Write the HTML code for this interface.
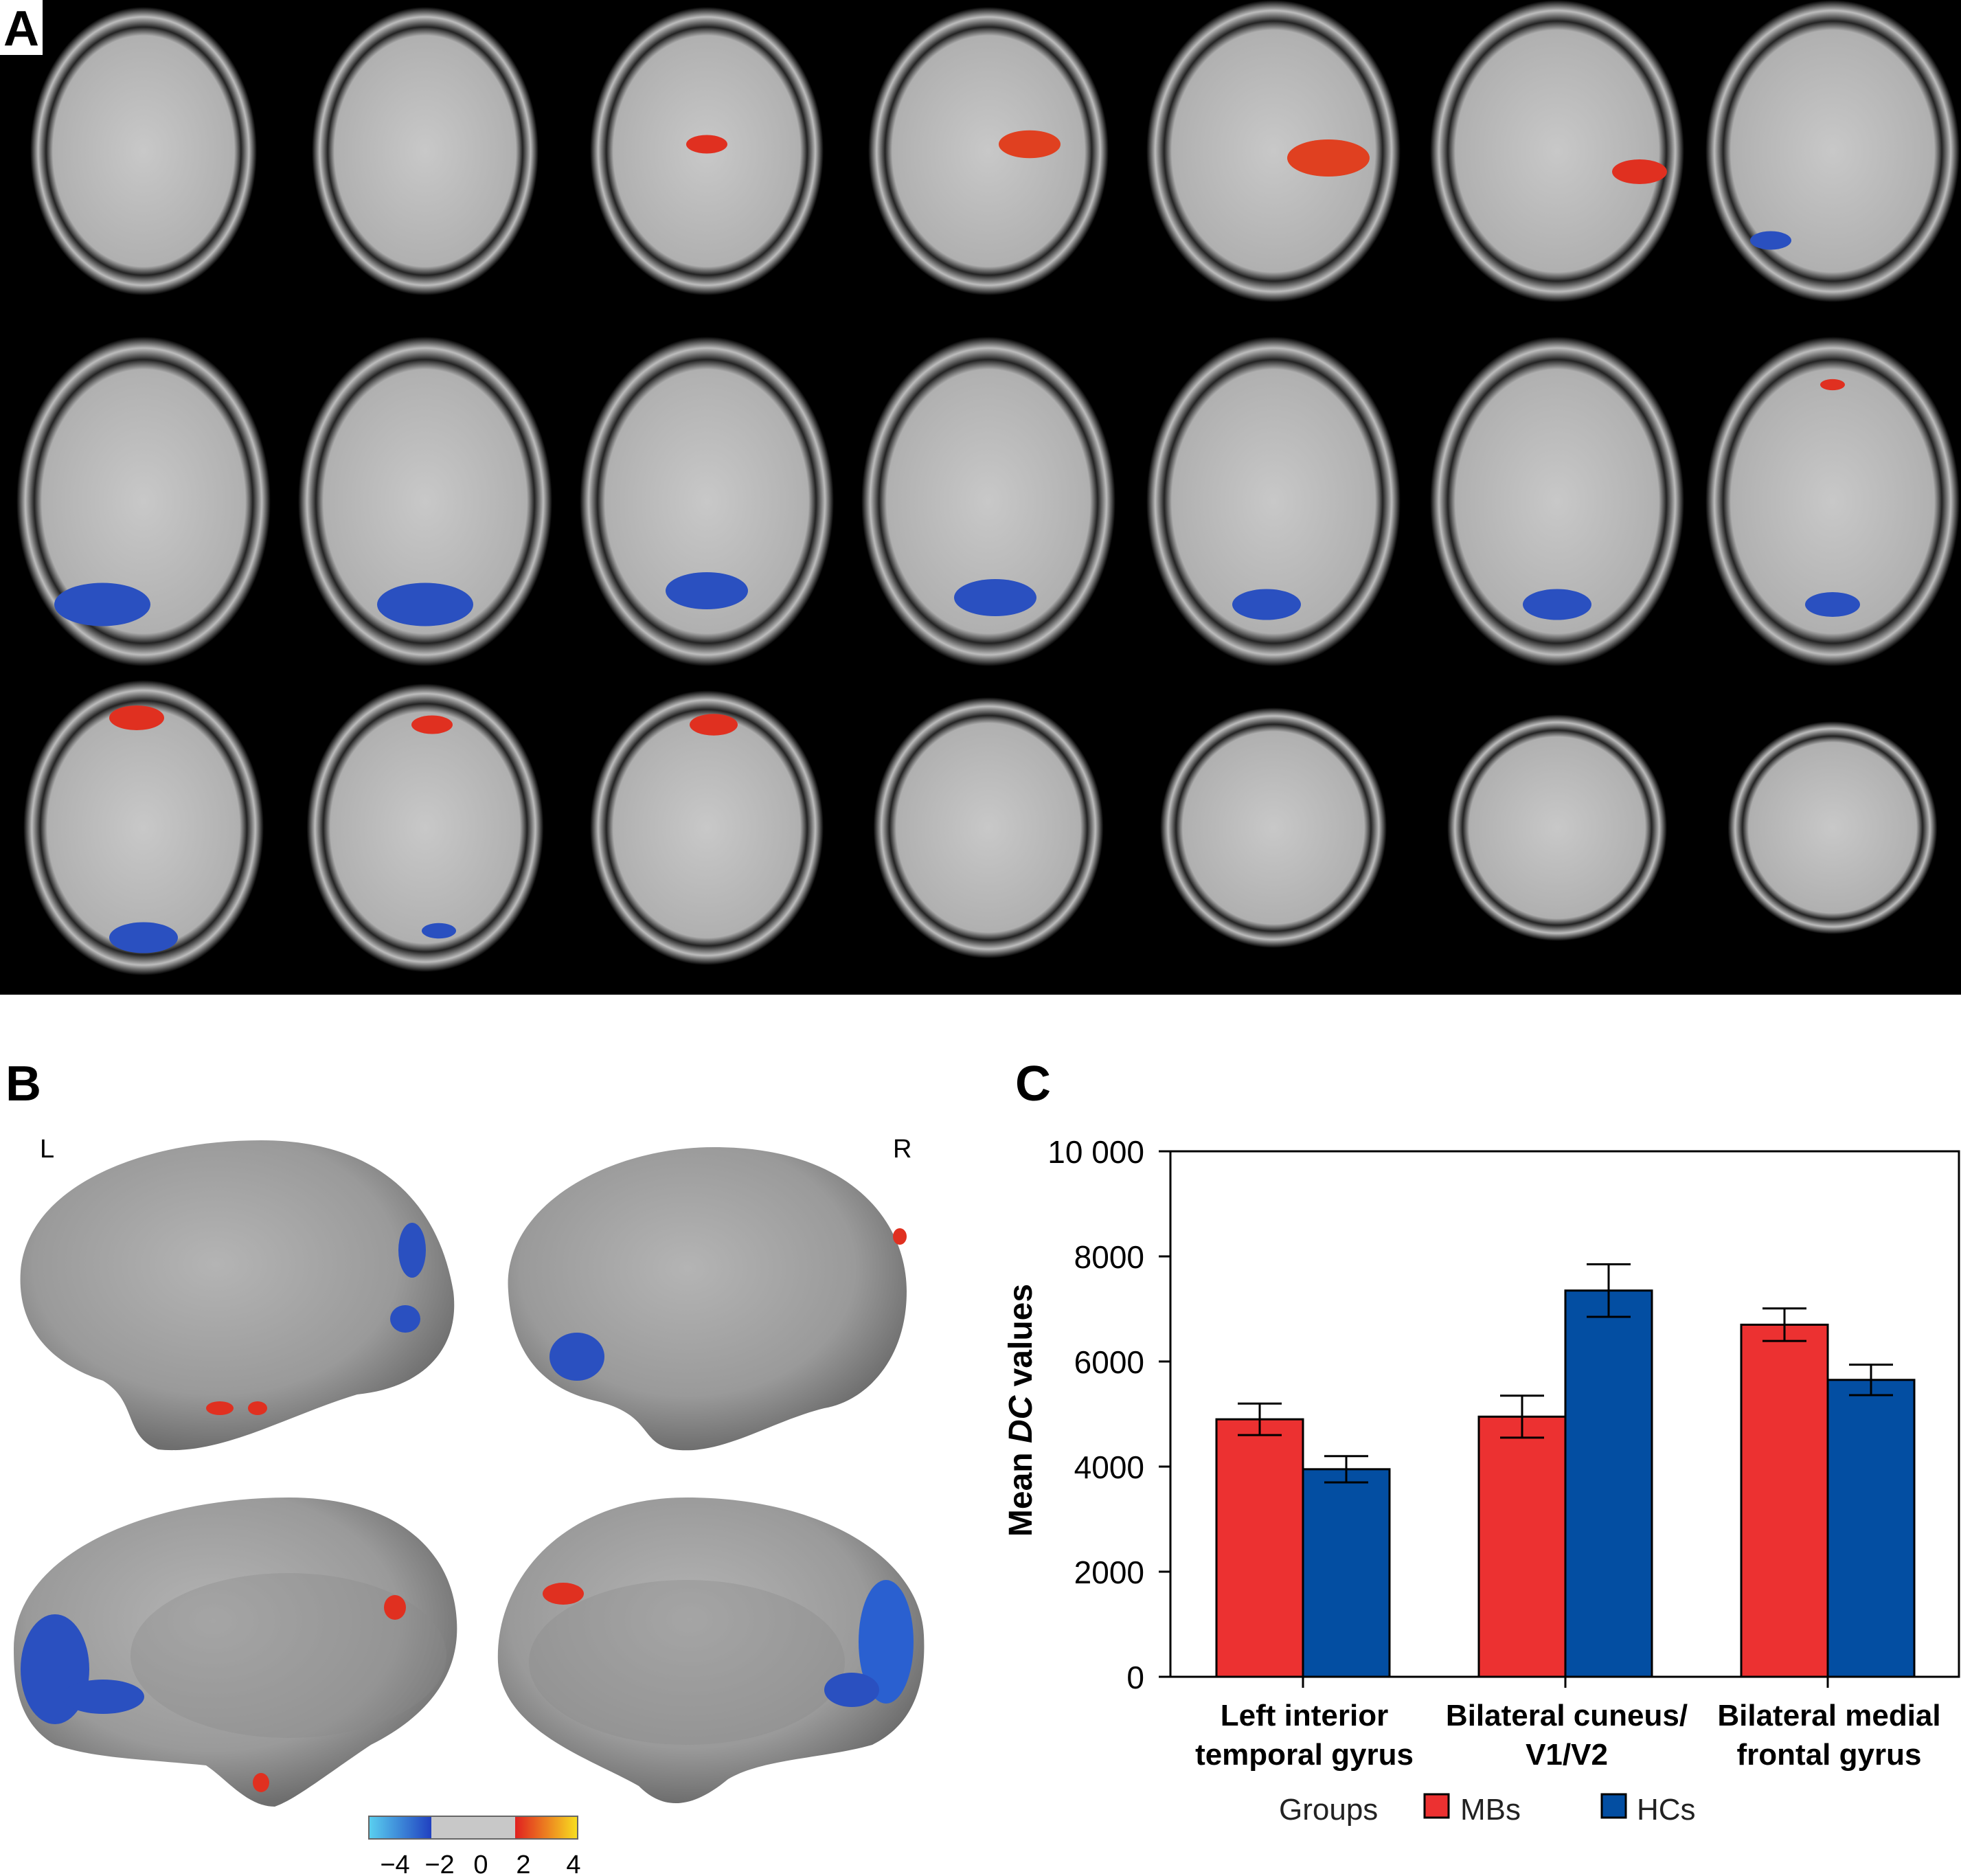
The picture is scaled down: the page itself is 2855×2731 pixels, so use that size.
<!DOCTYPE html>
<html><head><meta charset="utf-8"><style>
html,body{margin:0;padding:0;background:#fff}
svg{display:block}
text{font-family:"Liberation Sans",sans-serif}
</style></head><body>
<svg id="fig" width="2855" height="2731" viewBox="0 0 2855 2731" xmlns="http://www.w3.org/2000/svg">
<defs>
<radialGradient id="skull" cx="50%" cy="50%" r="50%">
<stop offset="0" stop-color="#c8c8c8"/><stop offset="0.8" stop-color="#b0b0b0"/><stop offset="0.86" stop-color="#222"/><stop offset="0.93" stop-color="#bdbdbd"/><stop offset="1" stop-color="#000"/>
</radialGradient>
<radialGradient id="surf" cx="45%" cy="40%" r="60%">
<stop offset="0" stop-color="#b4b4b4"/><stop offset="0.7" stop-color="#9a9a9a"/><stop offset="1" stop-color="#6e6e6e"/>
</radialGradient>
<linearGradient id="cbar" x1="0" x2="1">
<stop offset="0" stop-color="#5ad0f0"/><stop offset="0.3" stop-color="#2040c0"/><stop offset="0.3" stop-color="#c8c8c8"/><stop offset="0.7" stop-color="#c8c8c8"/><stop offset="0.7" stop-color="#e02020"/><stop offset="1" stop-color="#f8e020"/>
</linearGradient>
</defs>
<rect x="0" y="0" width="2855" height="1448" fill="#000"/>
<g id="slices"></g>
<rect x="0" y="0" width="62" height="80" fill="#fff"/>
<text x="31" y="66" font-size="72" font-weight="bold" text-anchor="middle" fill="#000">A</text>

<text x="8" y="1602" font-size="72" font-weight="bold">B</text>
<text x="58" y="1685" font-size="38">L</text>
<text x="1300" y="1685" font-size="38">R</text>
<g>
<path d="M30,1850 C40,1730 200,1660 380,1660 C560,1660 640,1760 660,1880 C670,1960 620,2020 520,2030 C420,2060 320,2120 230,2110 C180,2090 200,2040 150,2010 C60,1980 25,1920 30,1850Z" fill="url(#surf)"/>
<ellipse cx="600" cy="1820" rx="20" ry="40" fill="#2a50c0"/><ellipse cx="590" cy="1920" rx="22" ry="20" fill="#2a50c0"/><ellipse cx="320" cy="2050" rx="20" ry="10" fill="#e03020"/><ellipse cx="375" cy="2050" rx="14" ry="10" fill="#e03020"/>
</g>
<g>
<path d="M740,1880 C730,1760 880,1670 1040,1670 C1240,1670 1320,1780 1320,1880 C1320,1980 1260,2040 1200,2050 C1120,2070 1050,2120 980,2110 C930,2100 950,2060 870,2040 C780,2020 745,1960 740,1880Z" fill="url(#surf)"/>
<ellipse cx="840" cy="1975" rx="40" ry="35" fill="#2a50c0"/><ellipse cx="1310" cy="1800" rx="10" ry="12" fill="#e03020"/>
</g>
<g>
<path d="M20,2400 C20,2260 220,2180 420,2180 C580,2180 660,2260 665,2360 C670,2440 620,2500 540,2540 C480,2580 430,2620 400,2630 C360,2630 330,2590 300,2570 C200,2560 140,2560 80,2540 C30,2510 20,2460 20,2400Z" fill="url(#surf)"/>
<ellipse cx="420" cy="2410" rx="230" ry="120" fill="#8a8a8a" opacity="0.35"/>
<ellipse cx="80" cy="2430" rx="50" ry="80" fill="#2a50c0"/><ellipse cx="150" cy="2470" rx="60" ry="25" fill="#2a50c0"/><ellipse cx="575" cy="2340" rx="16" ry="18" fill="#e03020"/><ellipse cx="380" cy="2595" rx="12" ry="14" fill="#e03020"/>
</g>
<g>
<path d="M725,2420 C720,2300 820,2180 1000,2180 C1200,2180 1340,2270 1345,2380 C1350,2480 1310,2520 1270,2540 C1200,2560 1110,2560 1060,2590 C1000,2640 960,2630 930,2600 C860,2560 730,2520 725,2420Z" fill="url(#surf)"/>
<ellipse cx="1000" cy="2420" rx="230" ry="120" fill="#8a8a8a" opacity="0.35"/>
<ellipse cx="1290" cy="2390" rx="40" ry="90" fill="#2a60d0"/><ellipse cx="1240" cy="2460" rx="40" ry="25" fill="#2a50c0"/><ellipse cx="820" cy="2320" rx="30" ry="16" fill="#e03020"/>
</g>
<rect x="537" y="2644" width="304" height="33" fill="url(#cbar)" stroke="#666" stroke-width="2"/>
<g font-size="38" text-anchor="middle">
<text x="575" y="2727">−4</text><text x="640" y="2727">−2</text><text x="700" y="2727">0</text><text x="762" y="2727">2</text><text x="835" y="2727">4</text>
</g>

<text x="1478" y="1602" font-size="72" font-weight="bold">C</text>
<g id="chart"></g>
</svg>
<script>
const NS="http://www.w3.org/2000/svg";
function mk(tag,attrs,parent){const e=document.createElementNS(NS,tag);for(const k in attrs)e.setAttribute(k,attrs[k]);parent.appendChild(e);return e;}
const sg=document.getElementById('slices');
const colX=[209,619,1029,1439,1854,2267,2668];
const rowY=[220,730,1205];
const rowW=[[330,330,340,350,370,370,370],[370,370,370,370,370,370,370],[350,345,340,335,330,320,305]];
const rowH=[[420,420,420,420,440,440,440],[480,480,480,480,480,480,480],[430,420,400,380,350,330,310]];
for(let r=0;r<3;r++)for(let c=0;c<7;c++){
 const e=mk('ellipse',{cx:colX[c],cy:rowY[r],rx:rowW[r][c]/2,ry:rowH[r][c]/2,fill:'url(#skull)'},sg);
 
 
}
const blobs=[[2,0,30,"#e03020",0,-10],[3,0,45,"#e04020",60,-10],[4,0,60,"#e04020",80,10],[5,0,40,"#e03020",120,30],[6,0,30,"#2a50c0",-90,130],
[0,1,70,"#2a50c0",-60,150],[1,1,70,"#2a50c0",0,150],[2,1,60,"#2a50c0",0,130],[3,1,60,"#2a50c0",10,140],[4,1,50,"#2a50c0",-10,150],[5,1,50,"#2a50c0",0,150],[6,1,40,"#2a50c0",0,150],[6,1,18,"#e03020",0,-170],
[0,2,40,"#e03020",-10,-160],[1,2,30,"#e03020",10,-150],[2,2,35,"#e03020",10,-150],[0,2,50,"#2a50c0",0,160],[1,2,25,"#2a50c0",20,150]];
for(const b of blobs){const e=mk('ellipse',{cx:colX[b[0]]+b[4],cy:rowY[b[1]]+b[5],rx:b[2],ry:b[2]*0.45,fill:b[3]},sg);
 
 }

const categories=[["Left interior","temporal gyrus"],["Bilateral cuneus/","V1/V2"],["Bilateral medial","frontal gyrus"]];
const mbValues=[4900,4950,6700];
const hcValues=[3950,7350,5650];
const mbErr=[300,400,310];
const hcErr=[250,500,290];
const yTicks=[0,2000,4000,6000,8000,10000];
const yTickLabels=["0","2000","4000","6000","8000","10 000"];
const g=document.getElementById('chart');
const X0=1704,X1=2852,Y0=2441,Y1=1676,BW=126;
const y=v=>Y0-(v/10000)*(Y0-Y1);
const cx=i=>1897+i*382;
const frame=mk('rect',{x:X0,y:Y1,width:X1-X0,height:Y0-Y1,fill:'none',stroke:'#000','stroke-width':3},g);


yTicks.forEach((t,i)=>{
 const l=mk('line',{x1:1687,x2:X0,y1:y(t),y2:y(t),stroke:'#000','stroke-width':3},g);
 
 
 const tx=mk('text',{x:1666,y:y(t)+17,'font-size':46,'text-anchor':'end'},g);tx.textContent=yTickLabels[i];
 
 
});
const yt=mk('text',{x:0,y:0,'font-size':48,'font-weight':'bold','text-anchor':'middle',transform:'translate(1502,2053) rotate(-90)'},g);
yt.innerHTML='Mean <tspan font-style="italic">DC</tspan> values';


categories.forEach((c,i)=>{
 const bars=[[mbValues[i],mbErr[i],'#ec3131',cx(i)-BW,'bar-mbs'],[hcValues[i],hcErr[i],'#034ea2',cx(i),'bar-hcs']];
 bars.forEach(b=>{
  const r=mk('rect',{x:b[3],y:y(b[0]),width:BW,height:Y0-y(b[0]),fill:b[2],stroke:'#000','stroke-width':3},g);
  
  
  const m=b[3]+BW/2;
  const eb=mk('path',{d:`M${m-32},${y(b[0]+b[1])}H${m+32}M${m},${y(b[0]+b[1])}V${y(b[0]-b[1])}M${m-32},${y(b[0]-b[1])}H${m+32}`,stroke:'#000','stroke-width':3,fill:'none'},g);
  
  
 });
 const tk=mk('line',{x1:cx(i),x2:cx(i),y1:Y0,y2:Y0+16,stroke:'#000','stroke-width':3},g);
 
 
 c.forEach((s,j)=>{
  const t=mk('text',{x:cx(i)+2,y:2512+j*57,'font-size':44,'font-weight':'bold','text-anchor':'middle'},g);t.textContent=s;
  
  
 });
});
const lg=mk('g',{},g);


const gt=mk('text',{x:1862,y:2649,'font-size':44,fill:'#222'},lg);gt.textContent='Groups';
const lr=mk('rect',{x:2074,y:2612,width:35,height:34,fill:'#ec3131',stroke:'#000','stroke-width':3},lg);


const lt1=mk('text',{x:2126,y:2649,'font-size':44,fill:'#222'},lg);lt1.textContent='MBs';
const lb=mk('rect',{x:2332,y:2612,width:35,height:34,fill:'#034ea2',stroke:'#000','stroke-width':3},lg);


const lt2=mk('text',{x:2383,y:2649,'font-size':44,fill:'#222'},lg);lt2.textContent='HCs';
</script>
</body></html>
